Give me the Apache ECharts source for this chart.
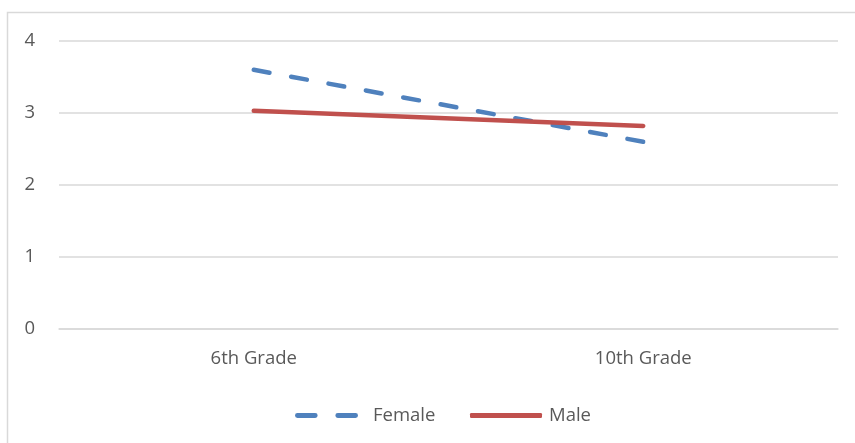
<!DOCTYPE html>
<html>
<head>
<meta charset="utf-8">
<script src="https://cdn.jsdelivr.net/npm/echarts@6/dist/echarts.min.js"></script>
<style>
  html, body { margin: 0; padding: 0; background: #fff; }
  #chart { width: 855px; height: 443px; }
</style>
</head>
<body>
<div id="chart"></div>
<script>
const categories = ['6th Grade', '10th Grade'];
const femaleValues = [3.6, 2.6];
const maleValues = [3.03, 2.82];
const yTicks = { min: 0, max: 4, interval: 1 };

const FONT = '"Open Sans", "Noto Sans", sans-serif';
const TEXT_COLOR = '#595959';
const GRID_COLOR = '#d9d9d9';
const FONT_SIZE = 18.5;

const chart = echarts.init(document.getElementById('chart'), null, { renderer: 'canvas' });
chart.setOption({
  animation: false,
  backgroundColor: '#fff',
  graphic: [{
    type: 'rect',
    shape: { x: 7.5, y: 12.5, width: 900, height: 500 },
    style: { fill: 'none', stroke: GRID_COLOR, lineWidth: 1.5 },
    silent: true
  }],
  grid: { left: 59, right: 17, top: 41, bottom: 114, containLabel: false },
  xAxis: {
    type: 'category',
    data: categories,
    boundaryGap: true,
    axisLine: { show: true, lineStyle: { color: GRID_COLOR, width: 1.5 } },
    axisTick: { show: false },
    axisLabel: { color: TEXT_COLOR, fontFamily: FONT, fontSize: FONT_SIZE, margin: 20 }
  },
  yAxis: {
    type: 'value',
    min: yTicks.min,
    max: yTicks.max,
    interval: yTicks.interval,
    axisLine: { show: false },
    axisTick: { show: false },
    splitLine: { lineStyle: { color: GRID_COLOR, width: 1.5 } },
    axisLabel: { color: TEXT_COLOR, fontFamily: FONT, fontSize: FONT_SIZE, margin: 24 }
  },
  legend: [{
    data: [{ name: 'Female', icon: 'path://M2,0h18a2,2 0 0 1 0,5h-18a2,2 0 0 1 0,-5z M43,0h18a2,2 0 0 1 0,5h-18a2,2 0 0 1 0,-5z' }],
    left: 290,
    top: 401,
    itemWidth: 63,
    itemHeight: 5,
    textStyle: { color: TEXT_COLOR, fontFamily: FONT, fontSize: FONT_SIZE, padding: [0, 0, 0, 10] }
  }, {
    data: [{ name: 'Male', icon: 'roundRect' }],
    left: 465,
    top: 401,
    itemWidth: 72,
    itemHeight: 5,
    textStyle: { color: TEXT_COLOR, fontFamily: FONT, fontSize: FONT_SIZE, padding: [0, 0, 0, 2] }
  }],
  series: [{
    name: 'Female',
    type: 'line',
    data: femaleValues,
    symbol: 'none',
    showSymbol: false,
    color: '#4f81bd',
    lineStyle: { color: '#4f81bd', width: 4.5, type: [16, 22], cap: 'round' }
  }, {
    name: 'Male',
    type: 'line',
    data: maleValues,
    symbol: 'none',
    showSymbol: false,
    color: '#c0504d',
    lineStyle: { color: '#c0504d', width: 4.5, cap: 'round' }
  }]
});
</script>
</body>
</html>
